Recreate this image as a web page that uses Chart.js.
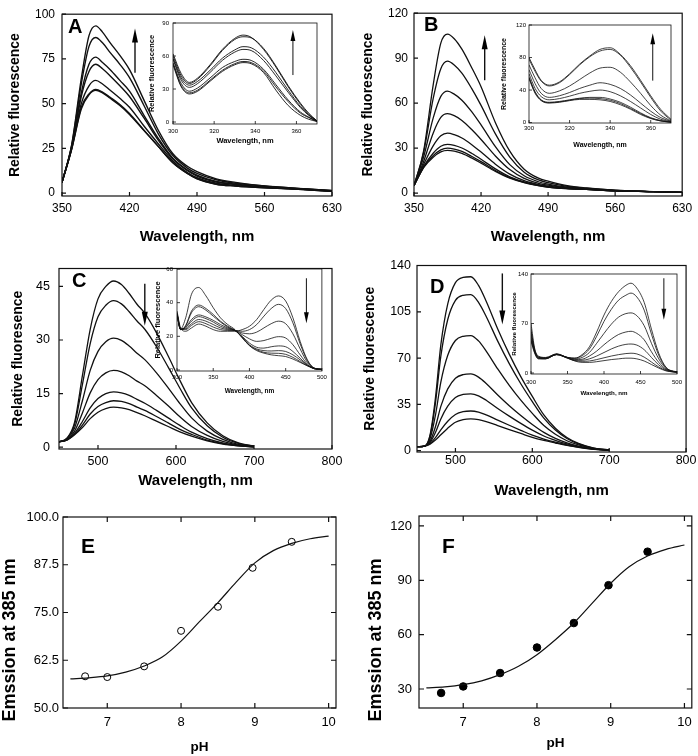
<!DOCTYPE html>
<html>
<head>
<meta charset="utf-8">
<script src="https://cdn.jsdelivr.net/npm/chart.js@4.4.1/dist/chart.umd.min.js"></script>
<style>
  body { margin: 0; background: #fff; }
  #fig { position: relative; width: 698px; height: 756px; overflow: hidden; }
  #fig canvas { position: absolute; }
</style>
</head>
<body>
<div id="fig"></div>
<script>
// ---- panel A : emission spectra (main) ----
const wlA = [350, 360, 370, 378, 385, 392, 400, 410, 420, 435, 450, 465, 480, 490, 510, 530, 560, 600, 630];
const specA = [
  [6, 27, 64, 88, 93.5, 90, 84, 77, 69, 52, 35, 22, 15, 12, 8, 6, 4, 2.5, 1.5],
  [6, 26.5, 61, 82, 87, 84, 78.5, 72, 64.5, 49, 33, 21, 14, 11, 7.5, 5.5, 4, 2.5, 1.4],
  [6, 26, 56, 72, 76, 73, 69, 63, 57, 43.5, 30.5, 19.5, 13, 10, 6.5, 5, 3.5, 2.3, 1.3],
  [6, 25.5, 54, 68, 72, 69.5, 65.5, 60, 54, 42, 29.5, 19, 12.5, 9.5, 6.2, 4.8, 3.4, 2.2, 1.2],
  [6, 25, 50, 60, 63, 61, 57.5, 53, 48, 37.5, 27.5, 18, 11.5, 8.6, 5.5, 4.3, 3.2, 2.1, 1.1],
  [6, 24.5, 48, 55.5, 58, 56.5, 53.5, 49.5, 44.5, 35.2, 26, 17, 11, 8.1, 5, 4, 3, 2, 1],
  [6, 24.5, 47, 55, 57.5, 56, 53, 49, 44, 35, 26, 17, 11, 8, 5, 4, 3, 2, 1]
];
// inset A : excitation spectra
const wlIA = [300, 304, 308, 312, 318, 324, 330, 334, 338, 344, 350, 356, 362, 366, 370];
const specIA = [
  [62, 44, 36, 40, 52, 66, 76, 79, 77, 66, 50, 32, 16, 7, 1],
  [60, 42, 35, 39, 51, 65, 75, 77.5, 76.5, 67, 51, 33, 17, 8, 1],
  [58, 40, 33.5, 37, 47, 58, 65.5, 68.5, 67.5, 59, 45, 29, 14, 6.5, 1],
  [57, 38, 31.5, 35, 45, 56, 63.5, 66, 65, 56, 42, 27, 13, 6, 0.8],
  [54, 35, 28, 31, 40, 49.5, 55, 57, 56, 48, 34, 20, 9, 4.5, 0.6],
  [53, 33, 26.5, 29, 38, 47, 53, 55, 54, 46.5, 32, 18.5, 8, 4, 0.5],
  [52, 32, 25.5, 28, 37, 46, 52, 54, 53, 45, 29, 15, 6, 2.5, 0.5]
];

// ---- panel B ----
const wlB = [350, 360, 370, 378, 385, 392, 400, 410, 420, 435, 450, 465, 480, 490, 510, 530, 560, 600, 630];
const specB = [
  [5, 28, 72, 100, 106, 103, 96, 84, 71, 47, 28, 16, 10, 8, 5, 3.5, 2, 1, 0.5],
  [5, 27, 63, 83, 88, 85.5, 80, 70, 58.5, 39.5, 24, 14, 8.8, 7, 4.5, 3.3, 1.9, 1, 0.5],
  [5, 24, 50, 64.5, 68, 66, 62, 54.5, 45.5, 31, 19, 11.6, 7.6, 6, 4, 3, 1.8, 1, 0.5],
  [5, 21, 40, 50.5, 53, 51.7, 48.5, 42.6, 35.8, 24.8, 15.7, 9.8, 6.6, 5.3, 3.6, 2.8, 1.7, 1, 0.5],
  [5, 19, 31.5, 38.2, 40, 39, 36.8, 32.5, 27.4, 19.3, 12.7, 8.3, 5.7, 4.6, 3.3, 2.6, 1.6, 1, 0.5],
  [5, 17.7, 26.6, 31.3, 32.5, 31.9, 30.1, 26.6, 22.6, 16.2, 10.9, 7.5, 5.3, 4.2, 3.1, 2.5, 1.5, 1, 0.5],
  [5, 17.2, 25, 28.9, 30, 29.4, 27.8, 24.6, 21, 15.1, 10.3, 7.2, 5.1, 4.1, 3, 2.5, 1.5, 1, 0.5],
  [5, 17, 24, 27.5, 28.5, 28, 26.5, 23.5, 20, 14.5, 10, 7, 5, 4, 3, 2.5, 1.5, 1, 0.5]
];
const wlIB = [300, 303, 306, 310, 315, 320, 325, 330, 335, 340, 345, 350, 355, 360, 365, 370];
const specIB = [
  [80, 65, 52, 46, 50, 60, 72, 82, 90, 92, 84, 70, 52, 33, 16, 4],
  [78, 63, 51, 45, 49, 59, 71, 81, 88, 90, 83, 68, 50, 31, 14, 3],
  [71, 55, 42, 36, 39, 45, 53, 61, 67, 68, 62, 50, 36, 21, 9, 2],
  [65, 48, 36, 31, 33, 37, 42, 46, 49, 47, 42, 34, 24, 14, 6, 1.5],
  [60, 42, 32, 28, 29.5, 32.5, 36, 38.5, 40, 38, 33, 26, 18, 10, 4, 1],
  [56, 38, 28, 25, 26, 28, 30, 31, 31, 29, 25, 19, 12, 6, 2.5, 0.5],
  [55, 37, 27.5, 24.5, 25.5, 27.5, 29.5, 30, 29.5, 27.5, 23.5, 17.5, 11, 5.5, 2, 0.5],
  [54, 36, 27, 24, 25, 27, 28.5, 28.5, 28, 26, 22, 16.5, 10, 5, 2, 0.5]
];

// ---- panel C ----
const wlC = [450, 460, 470, 480, 490, 500, 510, 520, 530, 540, 550, 560, 575, 590, 605, 620, 640, 660, 680, 700];
const specC = [
  [1.5, 2.5, 7, 20, 33, 41.5, 45, 46.5, 45.5, 43, 40, 37.5, 32, 25.5, 18.7, 12.5, 6.8, 3.2, 1.2, 0.3],
  [1.5, 2.4, 6.4, 17.5, 29, 36.5, 39.7, 41, 40.1, 37.9, 35.3, 33, 28.1, 22.4, 16.5, 11, 6, 2.8, 1.1, 0.3],
  [1.5, 2.3, 5.4, 13, 21.5, 26.8, 29.5, 30.5, 29.9, 28.3, 26.3, 24.5, 20.8, 16.6, 12.2, 8.2, 4.5, 2.2, 0.8, 0.2],
  [1.5, 2.1, 4.5, 9.6, 15.2, 18.9, 20.8, 21.5, 21.1, 20, 18.5, 17.2, 14.5, 11.6, 8.5, 5.8, 3.3, 1.6, 0.6, 0.2],
  [1.5, 2.1, 3.9, 7.2, 11, 13.6, 15, 15.5, 15.2, 14.5, 13.4, 12.3, 10.3, 8.2, 6.1, 4.2, 2.4, 1.2, 0.5, 0.1],
  [1.5, 2, 3.6, 6.2, 9.3, 11.4, 12.5, 13, 12.8, 12.2, 11.2, 10.3, 8.6, 6.8, 5, 3.6, 2, 1, 0.4, 0.1],
  [1.5, 2, 3.5, 5.5, 8, 9.8, 10.8, 11.2, 11, 10.5, 9.7, 8.8, 7.3, 5.8, 4.3, 3.1, 1.8, 0.9, 0.4, 0.1]
];
const wlIC = [300, 305, 312, 320, 330, 340, 350, 360, 370, 380, 390, 400, 410, 420, 430, 440, 450, 460, 470, 480, 490, 500];
const specIC = [
  [35, 25, 23, 25, 27.3, 26, 24, 23, 23, 23, 24, 26, 30, 36, 41.5, 44, 41, 31, 17, 6, 1, 0.5],
  [34, 24.5, 24, 26.5, 28.7, 27.5, 25.5, 24, 23.5, 23.5, 23, 24, 27, 32, 36.5, 39, 36.5, 28, 15.5, 5.5, 1, 0.5],
  [34, 24.5, 24.5, 27.5, 30, 29, 27, 25, 24, 23.5, 22, 21.5, 22.5, 25, 27.5, 29, 27.5, 21.5, 12.5, 4.5, 1, 0.4],
  [33, 24, 25, 29, 31.7, 30.5, 28.5, 26, 24.5, 23.5, 21, 18.5, 17, 17.5, 18.8, 19.8, 19, 15, 9, 3.5, 0.8, 0.3],
  [33, 24, 25.5, 30, 32.7, 31.5, 29.5, 27, 25, 23.5, 20, 16, 13.5, 13, 13.8, 14.3, 13.8, 11, 7, 3, 0.7, 0.3],
  [33, 24, 26, 34, 37.6, 35.5, 32, 28.5, 25.5, 23.5, 19.5, 15, 12.5, 11.5, 11.3, 11.5, 11, 9, 6, 2.8, 0.7, 0.3],
  [33, 24, 26.5, 35, 38.6, 36.5, 33, 29, 26, 23.5, 19.5, 14.5, 12, 10.5, 10, 9.9, 9.3, 7.5, 5, 2.5, 0.7, 0.3],
  [33, 24.5, 31, 45, 49, 44, 37, 31, 27, 24, 19, 14.5, 11.5, 10, 9, 8.5, 8, 6.5, 4.5, 2.5, 1, 0.3]
];

// ---- panel D ----
const wlD = [450, 460, 467, 474, 481, 490, 500, 510, 520, 530, 540, 555, 570, 585, 600, 615, 630, 645, 660, 680, 700];
const specD = [
  [3, 3.5, 12, 40, 80, 111, 127, 131, 131.5, 125, 113, 92, 73, 56, 41, 27, 17, 10, 5.5, 2, 0.5],
  [3, 3.5, 11.1, 36, 71.4, 99.2, 113.7, 117.5, 118, 112.2, 101.5, 82.8, 65.8, 50.6, 37.1, 24.6, 15.6, 9.2, 5.1, 1.9, 0.5],
  [3, 3.5, 9.1, 26.8, 51.8, 72.1, 83.3, 86.5, 87, 83, 75.3, 61.8, 49.4, 38.2, 28.2, 19, 12.4, 7.5, 4.3, 1.6, 0.4],
  [3, 3.5, 7.2, 18.1, 33.5, 46.7, 54.8, 57.5, 58, 55.6, 50.8, 42.1, 34, 26.6, 19.8, 13.8, 9.3, 5.9, 3.4, 1.3, 0.4],
  [3, 3.5, 6.2, 13.7, 24, 33.6, 40.2, 42.5, 43, 41.5, 38.1, 31.9, 26.1, 20.6, 15.5, 11.1, 7.8, 5.1, 3, 1.2, 0.3],
  [3, 3.5, 5.4, 9.8, 15.8, 22.3, 27.4, 29.5, 30, 29.2, 27.1, 23.1, 19.2, 15.4, 11.7, 8.8, 6.4, 4.3, 2.7, 1.1, 0.3],
  [3, 3.5, 5, 8, 12, 17, 21.5, 23.5, 24, 23.5, 22, 19, 16, 13, 10, 7.7, 5.8, 4, 2.5, 1, 0.3]
];
const wlID = [300, 305, 310, 320, 335, 350, 360, 370, 380, 390, 400, 410, 420, 430, 437, 445, 455, 465, 475, 485, 495, 500];
const specID = [
  [70, 35, 24, 22, 27, 22, 21, 26, 37, 58, 82, 101, 115, 124, 127, 120, 100, 62, 28, 8, 2.5, 2],
  [62, 33, 23, 21.5, 27, 22, 21, 24.5, 34, 52, 73, 90, 103, 110, 113, 107.5, 89, 55, 25, 7.5, 2.5, 2],
  [58, 32, 22.5, 21, 26.5, 22, 20, 22, 29, 42, 56, 69, 79, 84, 85, 81, 67, 42, 20, 6.5, 2.2, 1.8],
  [54, 31, 22, 21, 26.5, 21.5, 19, 19.5, 24, 31, 40, 48, 54.5, 58, 59, 56, 47, 30, 15, 5.5, 2, 1.5],
  [50, 30, 21, 20.5, 26, 21.5, 18, 18, 20, 24, 29, 34, 38, 40.5, 41, 39.5, 33, 22, 11.5, 4.5, 1.8, 1.3],
  [47, 29, 20.5, 20, 26, 21, 17.5, 16.5, 17, 19, 21.5, 24, 26, 27.5, 28, 27, 22.5, 15.5, 8.5, 3.5, 1.5, 1.2],
  [45, 28, 20, 20, 26, 21, 17, 15, 15, 16, 17.5, 19, 20, 21, 21, 20, 17, 12, 7, 3, 1.5, 1]
];

// ---- panels E, F : titration ----
const phPts = [6.7, 7.0, 7.5, 8.0, 8.5, 8.97, 9.5];
const emE = [58.3, 58.1, 60.9, 70.2, 76.5, 86.7, 93.5];
const emF = [27.8, 31.4, 38.8, 52.9, 66.4, 87.3, 105.8];
const phFit = [6.5, 6.75, 7, 7.25, 7.5, 7.75, 8, 8.25, 8.5, 8.75, 9, 9.25, 9.5, 9.75, 10];
const fitE = [57.6, 57.9, 58.4, 59.4, 61.0, 63.4, 67.5, 72.6, 77.6, 83.0, 88.0, 91.2, 93.1, 94.3, 95.0];
const fitF = [30.6, 31.2, 32.4, 34.5, 37.9, 42.5, 48.9, 57.2, 66.4, 77.4, 88.4, 97.5, 103.4, 107.1, 109.5];

// tick labels
const ticksWlAB = [350, 420, 490, 560, 630];
const ticksWlCD = [500, 600, 700, 800];
const ticksA = [0, 25, 50, 75, 100];
const ticksB = [0, 30, 60, 90, 120];
const ticksC = [0, 15, 30, 45];
const ticksD = [0, 35, 70, 105, 140];
const ticksInsetAB = [300, 320, 340, 360];
const ticksInsetCD = [300, 350, 400, 450, 500];
const ticksIA = [0, 30, 60, 90];
const ticksIB = [0, 40, 80, 120];
const ticksIC = [0, 20, 40, 60];
const ticksID = [0, 70, 140];
const ticksPH = [7, 8, 9, 10];
const ticksE = [50, 62.5, 75, 87.5, 100];
const ticksF = [30, 60, 90, 120];

const FONT = "'Liberation Sans', Arial, Helvetica, sans-serif";

// frame, inward ticks, arrows and letters
const decor = {
  id: 'decor',
  beforeDraw(chart, args, o) {
    if (!o.fill) return;
    const { ctx, chartArea: a } = chart;
    ctx.save();
    ctx.fillStyle = '#fff';
    ctx.fillRect(a.left, a.top, a.right - a.left, a.bottom - a.top);
    ctx.restore();
  },
  afterDraw(chart, args, o) {
    const { ctx, chartArea: a, scales: { x, y } } = chart;
    ctx.save();
    ctx.strokeStyle = '#111';
    ctx.fillStyle = '#000';
    ctx.lineWidth = o.frame;
    ctx.strokeRect(a.left, a.top, a.right - a.left, a.bottom - a.top);
    ctx.beginPath();
    x.ticks.forEach(t => {
      const p = x.getPixelForValue(t.value);
      ctx.moveTo(p, a.bottom); ctx.lineTo(p, a.bottom - o.tick);
      if (o.mirror) { ctx.moveTo(p, a.top); ctx.lineTo(p, a.top + o.tick); }
    });
    y.ticks.forEach(t => {
      const p = y.getPixelForValue(t.value);
      ctx.moveTo(a.left, p); ctx.lineTo(a.left + o.tick, p);
      if (o.mirror) { ctx.moveTo(a.right, p); ctx.lineTo(a.right - o.tick, p); }
    });
    ctx.stroke();
    (o.arrows || []).forEach(ar => {
      const px = x.getPixelForValue(ar.x);
      const p0 = y.getPixelForValue(ar.from), p1 = y.getPixelForValue(ar.to);
      const dir = p1 < p0 ? 1 : -1;
      ctx.lineWidth = ar.w;
      ctx.beginPath();
      ctx.moveTo(px, p0); ctx.lineTo(px, p1 + dir * ar.head * 0.7);
      ctx.stroke();
      ctx.beginPath();
      ctx.moveTo(px, p1);
      ctx.lineTo(px - ar.half, p1 + dir * ar.head);
      ctx.lineTo(px + ar.half, p1 + dir * ar.head);
      ctx.closePath();
      ctx.fill();
    });
    (o.texts || []).forEach(t => {
      ctx.save();
      ctx.font = `bold ${t.size}px ${FONT}`;
      ctx.textAlign = t.align || 'left';
      ctx.textBaseline = 'alphabetic';
      ctx.translate(t.x, t.y);
      ctx.rotate(t.rot || 0);
      ctx.fillText(t.text, 0, 0);
      ctx.restore();
    });
    ctx.restore();
  }
};

const curves = (wl, list, w) => list.map(v => ({
  data: wl.map((x, i) => ({ x, y: v[i] })),
  borderColor: '#111',
  borderWidth: w,
  pointRadius: 0,
  cubicInterpolationMode: 'monotone',
  fill: false
}));

// one chart placed so that its plot box sits at page coords `area`
function panel(o) {
  const { box, area } = o;
  const cv = document.createElement('canvas');
  cv.width = box.w; cv.height = box.h;
  cv.style.left = box.x + 'px'; cv.style.top = box.y + 'px';
  document.getElementById('fig').appendChild(cv);

  const tf = o.tickFont, xf = o.xTitleFont, yf = o.yTitleFont;
  const fixed = vals => s => { s.ticks = vals.map(v => ({ value: v })); };
  const d = Object.assign({}, o.decor);
  d.texts = (d.texts || []).map(t => Object.assign({}, t, { x: t.x - box.x, y: t.y - box.y }));

  new Chart(cv, {
    type: 'line',
    data: { datasets: o.datasets },
    options: {
      responsive: false,
      animation: false,
      events: [],
      layout: {
        autoPadding: false,
        padding: { left: 0, top: area.t - box.y, right: box.x + box.w - area.r, bottom: 0 }
      },
      plugins: { legend: { display: false }, tooltip: { enabled: false }, decor: d },
      scales: {
        x: {
          type: 'linear', min: o.x.min, max: o.x.max,
          afterBuildTicks: fixed(o.x.ticks),
          afterFit: s => { s.height = box.y + box.h - area.b; },
          grid: { display: false, drawTicks: false },
          border: { display: false },
          ticks: {
            color: '#000', font: { family: FONT, size: tf },
            padding: o.xTickY - area.b - tf * 0.6,
            autoSkip: false, maxRotation: 0,
            callback: o.x.fmt || (v => v)
          },
          title: {
            display: !!o.x.title, text: o.x.title, color: '#000',
            font: { family: FONT, size: xf, weight: 'bold' },
            padding: { top: 0, bottom: box.y + box.h - o.xTitleY - xf * 0.6 }
          }
        },
        y: {
          type: 'linear', min: o.y.min, max: o.y.max,
          afterBuildTicks: fixed(o.y.ticks),
          afterFit: s => { s.width = area.l - box.x; },
          grid: { display: false, drawTicks: false },
          border: { display: false },
          ticks: {
            color: '#000', font: { family: FONT, size: tf },
            padding: area.l - o.yTickRight,
            autoSkip: false,
            callback: o.y.fmt || (v => v)
          },
          title: {
            display: !!o.y.title, text: o.y.title, color: '#000',
            font: { family: FONT, size: yf, weight: 'bold' },
            padding: { top: o.yTitleX - box.x - (yf || 0) * 0.6, bottom: 0 }
          }
        }
      }
    },
    plugins: [decor]
  });
}

const mainArrow = { w: 1.4, head: 14, half: 3 };
const insetArrow = { w: 1, head: 11, half: 2.4 };

// ---- main panels ----
panel({
  box: { x: 0, y: 0, w: 349, h: 252 }, area: { l: 62, t: 7, r: 332, b: 196 },
  yTickRight: 55, xTickY: 209, yTitleX: 15, xTitleY: 237,
  tickFont: 12, xTitleFont: 15, yTitleFont: 14,
  x: { min: 350, max: 630, ticks: ticksWlAB, title: 'Wavelength, nm' },
  y: { min: -1.6, max: 100, ticks: ticksA, title: 'Relative fluorescence' },
  datasets: curves(wlA, specA, 1.4),
  decor: { frame: 1.2, tick: 4, arrows: [Object.assign({ x: 425.7, from: 67.3, to: 92 }, mainArrow)],
           texts: [{ text: 'A', x: 68, y: 33, size: 20 }] }
});
panel({
  box: { x: 349, y: 0, w: 349, h: 252 }, area: { l: 414, t: 5, r: 687, b: 196 },
  yTickRight: 408, xTickY: 209, yTitleX: 368, xTitleY: 237,
  tickFont: 12, xTitleFont: 15, yTitleFont: 14,
  x: { min: 350, max: 630, ticks: ticksWlAB, title: 'Wavelength, nm' },
  y: { min: -1.9, max: 120, ticks: ticksB, title: 'Relative fluorescence' },
  datasets: curves(wlB, specB, 1.3),
  decor: { frame: 1.2, tick: 4, arrows: [Object.assign({ x: 423.8, from: 75.3, to: 105.3 }, mainArrow)],
           texts: [{ text: 'B', x: 424, y: 31, size: 20 }] }
});
panel({
  box: { x: 0, y: 252, w: 349, h: 248 }, area: { l: 59, t: 260, r: 332, b: 449 },
  yTickRight: 50, xTickY: 462, yTitleX: 18, xTitleY: 480.5,
  tickFont: 12.5, xTitleFont: 15, yTitleFont: 14,
  x: { min: 450, max: 800, ticks: ticksWlCD, title: 'Wavelength, nm' },
  y: { min: -0.5, max: 50, ticks: ticksC, title: 'Relative fluoresence' },
  datasets: curves(wlC, specC, 1.3),
  decor: { frame: 1.2, tick: 4, arrows: [Object.assign({ x: 560, from: 45.7, to: 34 }, mainArrow)],
           texts: [{ text: 'C', x: 72, y: 287, size: 20 }] }
});
panel({
  box: { x: 349, y: 252, w: 349, h: 248 }, area: { l: 417, t: 264, r: 688, b: 452 },
  yTickRight: 411, xTickY: 461, yTitleX: 370, xTitleY: 491,
  tickFont: 12.5, xTitleFont: 15, yTitleFont: 14,
  x: { min: 450, max: 800, ticks: ticksWlCD, title: 'Wavelength, nm' },
  y: { min: -1, max: 140, ticks: ticksD, title: 'Relative fluorescence' },
  datasets: curves(wlD, specD, 1.3),
  decor: { frame: 1.2, tick: 4, arrows: [Object.assign({ x: 561, from: 134, to: 95.4 }, mainArrow)],
           texts: [{ text: 'D', x: 430, y: 293, size: 20 }] }
});

const fitSet = (fit) => ({
  data: phFit.map((x, i) => ({ x, y: fit[i] })),
  borderColor: '#111', borderWidth: 1.2, pointRadius: 0,
  cubicInterpolationMode: 'monotone', fill: false
});
const ptSet = (vals, filled) => ({
  data: phPts.map((x, i) => ({ x, y: vals[i] })),
  showLine: false,
  pointRadius: filled ? 3.8 : 3.5,
  pointBorderWidth: 1,
  pointBorderColor: '#000',
  pointBackgroundColor: filled ? '#000' : '#fff'
});

panel({
  box: { x: 0, y: 500, w: 349, h: 256 }, area: { l: 63, t: 517, r: 336, b: 708 },
  yTickRight: 59, xTickY: 722, yTitleX: 0, xTitleY: 747,
  tickFont: 13, xTitleFont: 13.5, yTitleFont: 0,
  x: { min: 6.4, max: 10.1, ticks: ticksPH, title: 'pH' },
  y: { min: 50, max: 100, ticks: ticksE, fmt: v => v.toFixed(1) },
  datasets: [fitSet(fitE), ptSet(emE, false)],
  decor: { frame: 1.2, tick: 5, mirror: true,
           texts: [{ text: 'E', x: 81, y: 553, size: 21 },
                   { text: 'Emssion at 385 nm', x: 15, y: 640, size: 18, align: 'center', rot: -Math.PI / 2 }] }
});
panel({
  box: { x: 349, y: 500, w: 349, h: 256 }, area: { l: 419, t: 516, r: 693, b: 708 },
  yTickRight: 412, xTickY: 722, yTitleX: 0, xTitleY: 743,
  tickFont: 13, xTitleFont: 13.5, yTitleFont: 0,
  x: { min: 6.4, max: 10.1, ticks: ticksPH, title: 'pH' },
  y: { min: 19.5, max: 125.5, ticks: ticksF },
  datasets: [fitSet(fitF), ptSet(emF, true)],
  decor: { frame: 1.2, tick: 5, mirror: true,
           texts: [{ text: 'F', x: 442, y: 553, size: 21 },
                   { text: 'Emssion at 385 nm', x: 380.5, y: 640, size: 18, align: 'center', rot: -Math.PI / 2 }] }
});

// ---- insets ----
panel({
  box: { x: 140, y: 12, w: 190, h: 140 }, area: { l: 173, t: 23, r: 317, b: 124 },
  yTickRight: 169, xTickY: 131, yTitleX: 152, xTitleY: 141,
  tickFont: 6, xTitleFont: 7.5, yTitleFont: 7.5,
  x: { min: 300, max: 370, ticks: ticksInsetAB, title: 'Wavelength, nm' },
  y: { min: -1.8, max: 90, ticks: ticksIA, title: 'Relative fluorescence' },
  datasets: curves(wlIA, specIA, 0.9),
  decor: { fill: true, frame: 0.8, tick: 3, arrows: [Object.assign({ x: 358.3, from: 42.7, to: 83.6 }, insetArrow)] }
});
panel({
  box: { x: 495, y: 12, w: 190, h: 140 }, area: { l: 529, t: 25, r: 671, b: 123 },
  yTickRight: 526, xTickY: 128.7, yTitleX: 504, xTitleY: 145,
  tickFont: 6, xTitleFont: 7, yTitleFont: 7,
  x: { min: 300, max: 370, ticks: ticksInsetAB, title: 'Wavelength, nm' },
  y: { min: -0.5, max: 120, ticks: ticksIB, title: 'Relative fluorescence' },
  datasets: curves(wlIB, specIB, 0.8),
  decor: { fill: true, frame: 0.8, tick: 3, arrows: [Object.assign({ x: 361, from: 51.6, to: 109.8 }, insetArrow)] }
});
panel({
  box: { x: 140, y: 258, w: 190, h: 140 }, area: { l: 177, t: 269, r: 324, b: 371 },
  yTickRight: 173, xTickY: 377.7, yTitleX: 158, xTitleY: 391,
  tickFont: 6, xTitleFont: 6.5, yTitleFont: 7.5,
  x: { min: 300, max: 500, ticks: ticksInsetCD, title: 'Wavelength, nm' },
  y: { min: -0.6, max: 60, ticks: ticksIC, title: 'Relative fluorescence' },
  datasets: curves(wlIC, specIC, 0.8),
  decor: { fill: true, frame: 0.8, tick: 3, arrows: [Object.assign({ x: 478.6, from: 54.5, to: 27.7 }, insetArrow)] }
});
panel({
  box: { x: 500, y: 265, w: 190, h: 135 }, area: { l: 531, t: 274, r: 677, b: 374 },
  yTickRight: 528, xTickY: 382, yTitleX: 514, xTitleY: 393,
  tickFont: 6, xTitleFont: 6.2, yTitleFont: 6.2,
  x: { min: 300, max: 500, ticks: ticksInsetCD, title: 'Wavelength, nm' },
  y: { min: -1.4, max: 140, ticks: ticksID, title: 'Relative fluorescence' },
  datasets: curves(wlID, specID, 0.8),
  decor: { fill: true, frame: 0.8, tick: 3, arrows: [Object.assign({ x: 482, from: 134, to: 75.4 }, insetArrow)] }
});
</script>
</body>
</html>
